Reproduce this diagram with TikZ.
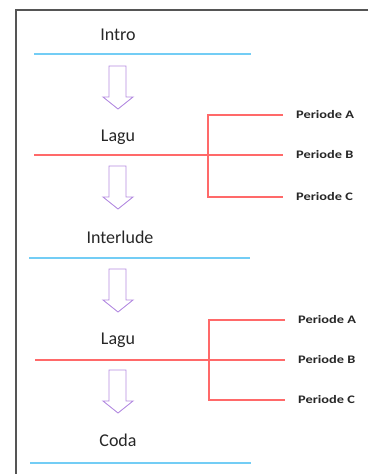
\documentclass[tikz,border=0pt]{standalone}
\usepackage{fontspec}
\setmainfont{Carlito}
\newfontfamily\periodefont[FakeStretch=1.25]{Carlito}
\definecolor{lineblue}{RGB}{115,205,245}
\definecolor{linered}{RGB}{255,105,105}
\definecolor{arrowpurple}{RGB}{180,140,225}
\definecolor{framegray}{RGB}{85,85,85}
\begin{document}
\begin{tikzpicture}[x=1pt, y=-1pt,
    part/.style={text=black!85, font=\fontsize{18}{20}\selectfont},
    periode/.style={anchor=west, inner xsep=13pt, text=black!85,
      font=\periodefont\bfseries\fontsize{11.5}{13}\selectfont},
    blueline/.style={lineblue, line width=1.4pt},
    redline/.style={linered, line width=1.1pt}]
        \useasboundingbox (0,0) rectangle (368,474);
        % the frame, only its top and left sides show
        \draw[framegray, line width=2pt] (368,10) -- (16,10) -- (16,474);

        % the parts of the song
        \node[part] (intro) at (118,35) {Intro};
        \node[part] (lagu1) at (118,137) {Lagu};
        \node[part] (interlude) at (120,237) {Interlude};
        \node[part] (lagu2) at (118,340) {Lagu};
        \node[part] (coda) at (118,440) {Coda};

        % the blue lines under Intro, Interlude and Coda
        \draw[blueline] (34,54) -- (251,54);
        \draw[blueline] (29,258) -- (250,258);
        \draw[blueline] (30,463) -- (251,463);

        % the hollow arrows between the parts
        \foreach \y in {66,166,269,370}
        \draw[arrowpurple, line width=0.9pt, line join=miter]
          (109,\y) -- (126,\y) -- (126,\y+31) -- (133,\y+31)
          -- (118,\y+43) -- (103,\y+31) -- (109,\y+31) -- cycle;

        % Periode labels of the first Lagu
        \node[periode] (pa1) at (283,115) {Periode A};
        \node[periode] (pb1) at (283,155) {Periode B};
        \node[periode] (pc1) at (283,197) {Periode C};
        \coordinate (fork1) at (208,155);
        % red line under the first Lagu and its bracket
        \draw[redline] (34,155) -- (pb1.west);
        \draw[redline] (pa1.west) -| (fork1) |- (pc1.west);

        % Periode labels of the second Lagu
        \node[periode] (pa2) at (285,320) {Periode A};
        \node[periode] (pb2) at (285,360) {Periode B};
        \node[periode] (pc2) at (285,400) {Periode C};
        \coordinate (fork2) at (209,360);
        % red line under the second Lagu and its bracket
        \draw[redline] (35,360) -- (pb2.west);
        \draw[redline] (pa2.west) -| (fork2) |- (pc2.west);
\end{tikzpicture}
\end{document}
